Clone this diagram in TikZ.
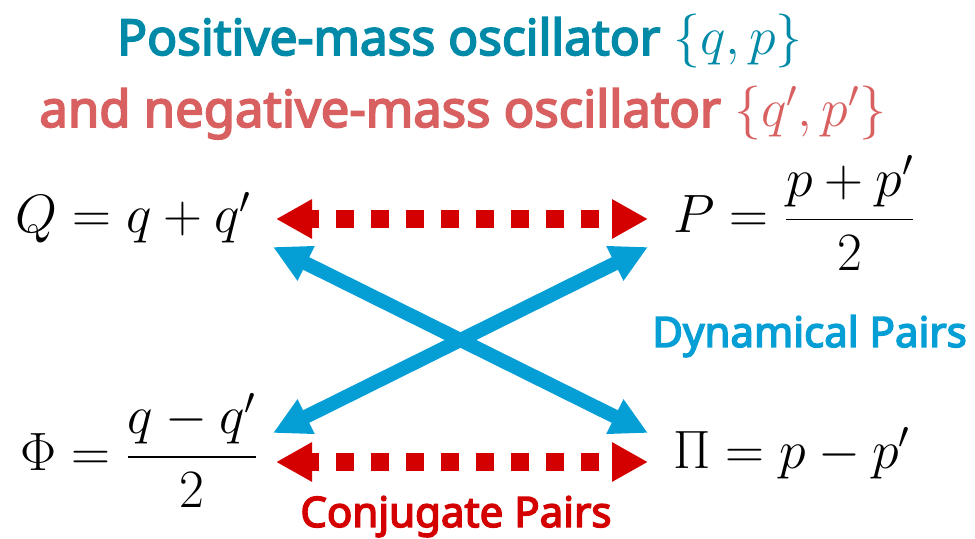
\documentclass[tikz,border=0pt]{standalone}
\usepackage{fix-cm}
\usepackage{amsmath}
\usepackage{fontspec}
\newfontfamily\notobold{Noto Sans}[FakeBold=3.5]
\usetikzlibrary{arrows.meta}
\definecolor{titleblue}{RGB}{0,138,168}
\definecolor{titlered}{RGB}{217,96,96}
\definecolor{pairblue}{RGB}{5,159,213}
\definecolor{pairred}{RGB}{212,0,0}

\begin{document}
\begin{tikzpicture}[x=0.5pt, y=-0.5pt]
        \tikzstyle{title} = [inner sep=0, anchor=base, font=\notobold]
        \tikzstyle{eq} = [inner sep=0, anchor=base west, font=\fontsize{27}{32}\selectfont]
        \tikzstyle{pairlabel} = [inner sep=0, anchor=base west, font=\notobold\fontsize{21}{25}\selectfont]
        \tikzstyle{conj} = [draw=pairred, line width=9pt, dash pattern=on 9pt off 8.5pt, dash phase=4.5pt, {Triangle[length=18pt,width=18.5pt]}-{Triangle[length=18pt,width=18.5pt]}]
        \tikzstyle{dyn} = [draw=pairblue, line width=7pt, {Triangle[length=18.5pt,width=18pt]}-{Triangle[length=18.5pt,width=18pt]}]

        \useasboundingbox (0,0) rectangle (975,539);

        \node [title, text=titleblue] (line1) at (460,55)
            {\fontsize{24.8}{29}\selectfont Positive-mass oscillator \fontsize{27}{32}\selectfont$\{q,p\}$};
        \node [title, text=titlered]  (line2) at (463,127)
            {\fontsize{25.4}{30}\selectfont and negative-mass oscillator \fontsize{27}{32}\selectfont$\{q',p'\}$};

        \node [eq] (Q)   at (15,233)    {$Q = q + q'$};
        \node [eq] (P)   at (673,233)   {$P = \dfrac{p+p'}{2}$};
        \node [eq] (Phi) at (20,470.5)  {$\Phi = \dfrac{q-q'}{2}$};
        \node [eq] (Pi)  at (673,468.5) {$\Pi = p - p'$};

        % arrow ends next to the four relations
        \coordinate (Qr)   at (276,219);
        \coordinate (Pl)   at (648,219);
        \coordinate (Phir) at (276,462);
        \coordinate (Pil)  at (648,462);
        \coordinate (Qd)   at (273,247);
        \coordinate (Pd)   at (648,247);
        \coordinate (Phiu) at (273,433);
        \coordinate (Piu)  at (648,433);

        \draw [conj] (Qr) -- (Pl);
        \draw [conj] (Phir) -- (Pil);
        \draw [dyn] (Qd) -- (Piu);
        \draw [dyn] (Pd) -- (Phiu);

        \node [pairlabel, text=pairblue] (dynlabel)  at (652,347) {Dynamical Pairs};
        \node [pairlabel, text=pairred]  (conjlabel) at (300,527) {Conjugate Pairs};
    \end{tikzpicture}
\end{document}
